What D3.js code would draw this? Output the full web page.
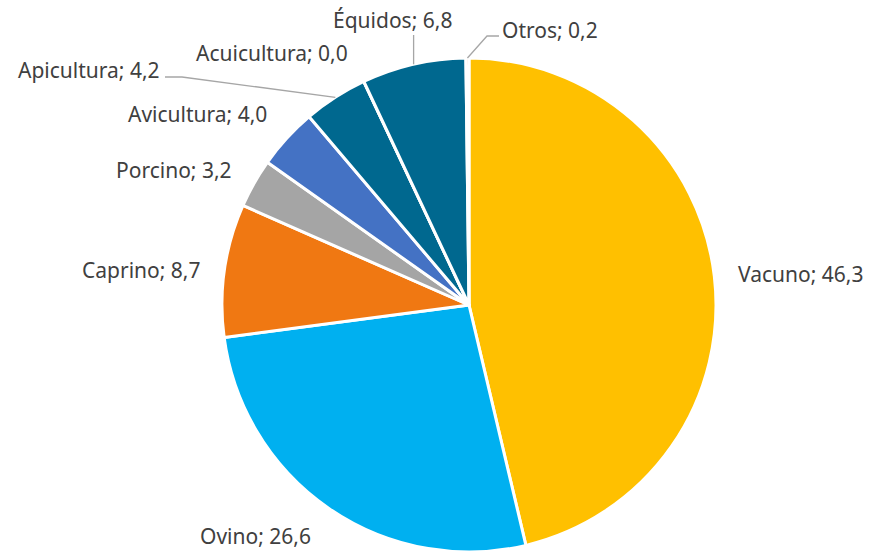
<!DOCTYPE html>
<html>
<head>
<meta charset="utf-8">
<script src="https://cdn.jsdelivr.net/npm/d3@7"></script>
<style>
  body { margin: 0; background: #fff; }
  svg { display: block; }
  .label { font-family: "Noto Sans", sans-serif; font-size: 21px; fill: #404040; }
</style>
</head>
<body>
<svg width="870" height="555"></svg>
<script>
var categories = ["Vacuno", "Ovino", "Caprino", "Porcino", "Avicultura", "Apicultura", "Acuicultura", "Équidos", "Otros"];
var values = [46.3, 26.6, 8.7, 3.2, 4.0, 4.2, 0.0, 6.8, 0.2];
var colors = ["#FFC000", "#00B0F0", "#F07812", "#A5A5A5", "#4472C4", "#00688F", "#00688F", "#00688F", "#ED7D31"];

// where each label sits (text start x, baseline y) and whether it gets a leader line
var labelPos = {
  "Vacuno": [738, 282, false],
  "Ovino": [200, 544, false],
  "Caprino": [82, 278, false],
  "Porcino": [116, 178, false],
  "Avicultura": [128, 122, false],
  "Apicultura": [18, 78, true],
  "Acuicultura": [196, 61, false],
  "Équidos": [333, 28, true],
  "Otros": [502, 38, true]
};

var svg = d3.select("svg");
var cx = 469, cy = 305, radius = 247;

var data = categories.map(function(c, i) {
  return { name: c, value: values[i], color: colors[i] };
});

var pie = d3.pie()
  .sort(null)
  .value(function(d) { return d.value; });

var arc = d3.arc()
  .innerRadius(0)
  .outerRadius(radius);

var g = svg.append("g")
  .attr("transform", "translate(" + cx + "," + cy + ")");

var arcs = pie(data);

g.selectAll("path.slice")
  .data(arcs)
  .enter().append("path")
  .attr("class", "slice")
  .attr("d", arc)
  .attr("fill", function(d) { return d.data.color; })
  .attr("stroke", "#fff")
  .attr("stroke-width", 3)
  .attr("stroke-linejoin", "round");

function fmt(v) {
  return v.toFixed(1).replace(".", ",");
}

// leader lines
arcs.forEach(function(d) {
  var p = labelPos[d.data.name];
  if (!p[2]) return;
  var mid = (d.startAngle + d.endAngle) / 2;
  var sx = Math.sin(mid) * radius, sy = -Math.cos(mid) * radius;
  var pts;
  if (d.data.name === "Apicultura") {
    pts = [[sx, sy], [182 - cx, 77 - cy], [165 - cx, 77 - cy]];
  } else if (d.data.name === "Équidos") {
    pts = [[sx, sy], [sx, 35 - cy]];
  } else {
    pts = [[sx, sy], [487 - cx, 36 - cy], [499 - cx, 36 - cy]];
  }
  g.append("path")
    .attr("d", d3.line()(pts))
    .attr("fill", "none")
    .attr("stroke", "#A6A6A6")
    .attr("stroke-width", 1.3);
});

svg.selectAll("text.label")
  .data(arcs)
  .enter().append("text")
  .attr("class", "label")
  .attr("x", function(d) { return labelPos[d.data.name][0]; })
  .attr("y", function(d) { return labelPos[d.data.name][1]; })
  .text(function(d) { return d.data.name + "; " + fmt(d.data.value); });
</script>
</body>
</html>
